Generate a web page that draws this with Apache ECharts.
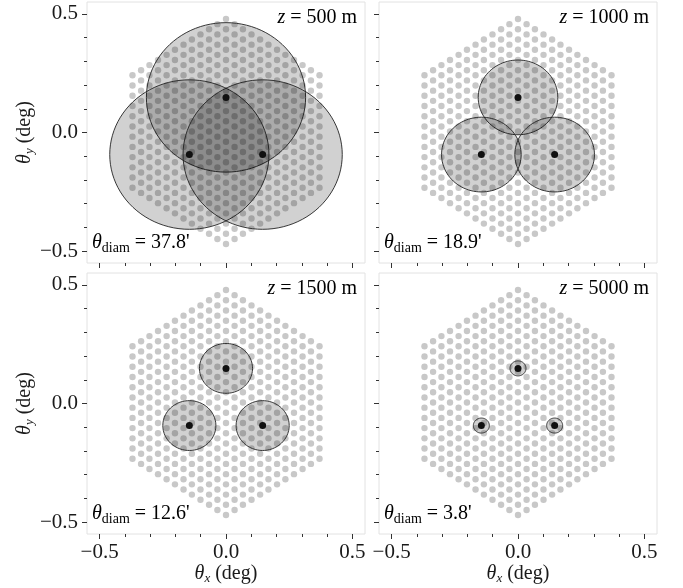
<!DOCTYPE html>
<html><head><meta charset="utf-8">
<script src="https://cdn.jsdelivr.net/npm/echarts@6/dist/echarts.min.js"></script>
<style>html,body{margin:0;padding:0;background:#fff}#c{width:683px;height:588px}</style>
</head><body><div id="c"></div>
<script>
// ---- data ----
const panelHeights = [500, 1000, 1500, 5000];          // z (m)
const panelDiamArcmin = ['37.8', '18.9', '12.6', '3.8']; // beam diameter (arcmin)
const sourceX = [0.0, -0.145, 0.145];                 // deg
const sourceY = [0.148, -0.093, -0.093];              // deg
// hexagonal grid of gray dots: one entry per column
const dotColumnX = [-0.370, -0.336, -0.303, -0.269, -0.235, -0.202, -0.168, -0.135, -0.101, -0.067, -0.034, 0.0,
                    0.034, 0.067, 0.101, 0.135, 0.168, 0.202, 0.235, 0.269, 0.303, 0.336, 0.370];
const dotColumnCount = [12, 13, 14, 15, 16, 17, 18, 19, 20, 21, 22, 23, 22, 21, 20, 19, 18, 17, 16, 15, 14, 13, 12];
const dotRowStep = 0.0431;   // deg between dots in a column
const dotCenterY = 0.004;
const majorTicks = [-0.5, 0.0, 0.5];
const minorTicks = [-0.4, -0.3, -0.2, -0.1, 0.1, 0.2, 0.3, 0.4];

// ---- build ----
const dots = [];
dotColumnX.forEach((x, j) => {
  const n = dotColumnCount[j];
  for (let k = 0; k < n; k++) dots.push([x, dotCenterY + (k - (n - 1) / 2) * dotRowStep]);
});
const sources = sourceX.map((x, i) => [x, sourceY[i]]);

const FONT = '"Liberation Serif", "Times New Roman", serif';
const TXT = '#1a1a1a';
const fmt = v => (v < 0 ? '\u2212' : '') + Math.abs(v).toFixed(1);
const richBase = {
  th: {fontFamily: FONT, fontSize: 20, fontStyle: 'italic', color: TXT, lineHeight: 22, verticalAlign: 'top'},
  subi: {fontFamily: FONT, fontSize: 13, fontStyle: 'italic', color: TXT, lineHeight: 14, padding: [8, 0, 0, 0], verticalAlign: 'top'},
  sub: {fontFamily: FONT, fontSize: 14, color: TXT, lineHeight: 14, padding: [8, 0, 0, 0], verticalAlign: 'top'},
  t: {fontFamily: FONT, fontSize: 20, color: TXT, lineHeight: 22, verticalAlign: 'top'}
};

const L = [87, 379], T = [2, 273], W = 278, H = 261;
const grids = [], xAxes = [], yAxes = [], series = [], graphics = [];
for (let p = 0; p < 4; p++) {
  const col = p % 2, row = Math.floor(p / 2);
  grids.push({left: L[col], top: T[row], width: W, height: H, show: true,
    borderColor: '#e2e2e2', borderWidth: 1, backgroundColor: '#fff', containLabel: false});
  const showX = row === 1, showY = col === 0;
  const common = {type: 'value', gridIndex: p, min: -0.55, max: 0.55,
    axisLine: {show: false, onZero: false}, splitLine: {show: false}};
  xAxes.push(Object.assign({}, common, {position: 'bottom',
    axisTick: {show: true, customValues: majorTicks, length: 5, lineStyle: {color: '#333', width: 1}},
    axisLabel: {show: showX, customValues: majorTicks, formatter: fmt, fontFamily: FONT, fontSize: 21, color: TXT, margin: 8},
    name: showX ? '{th|θ}{subi|x}{t| (deg)}' : '', nameLocation: 'middle', nameGap: 30,
    nameTextStyle: {rich: richBase}}));
  xAxes.push(Object.assign({}, common, {position: 'bottom',
    axisTick: {show: true, customValues: minorTicks, length: 3, lineStyle: {color: '#333', width: 1}},
    axisLabel: {show: false}}));
  yAxes.push(Object.assign({}, common, {position: 'left',
    axisTick: {show: true, customValues: majorTicks, length: 5, lineStyle: {color: '#333', width: 1}},
    axisLabel: {show: showY, customValues: majorTicks, formatter: fmt, fontFamily: FONT, fontSize: 21, color: TXT, margin: 9},
    name: showY ? '{th|θ}{subi|y}{t| (deg)}' : '', nameLocation: 'middle', nameGap: 47,
    nameTextStyle: {rich: richBase}}));
  yAxes.push(Object.assign({}, common, {position: 'left',
    axisTick: {show: true, customValues: minorTicks, length: 3, lineStyle: {color: '#333', width: 1}},
    axisLabel: {show: false}}));

  const r = parseFloat(panelDiamArcmin[p]) / 60 / 2;
  series.push({type: 'scatter', xAxisIndex: 2 * p, yAxisIndex: 2 * p, data: dots, symbolSize: 6.4,
    itemStyle: {color: '#c8c8c8', opacity: 1}, silent: true, z: 1});
  series.push({type: 'custom', xAxisIndex: 2 * p, yAxisIndex: 2 * p, z: 2, silent: true,
    data: sources.map(s => [s[0], s[1], r]),
    renderItem: (params, api) => {
      const cx = api.value(0), cy = api.value(1), rr = api.value(2);
      const pts = [];
      for (let a = 0; a < 96; a++) {
        const t = a / 96 * Math.PI * 2;
        pts.push(api.coord([cx + rr * Math.cos(t), cy + rr * Math.sin(t)]));
      }
      return {type: 'polygon', shape: {points: pts},
        style: {fill: 'rgba(0,0,0,0.18)', stroke: '#222', lineWidth: 0.9}};
    }});
  series.push({type: 'scatter', xAxisIndex: 2 * p, yAxisIndex: 2 * p, data: sources, symbolSize: 7,
    itemStyle: {color: '#111', opacity: 1}, silent: true, z: 3});

  graphics.push({type: 'text', right: 683 - (L[col] + W) + 8, top: T[row] + 6, z: 10,
    style: {text: '{th|z}{t| = ' + panelHeights[p] + ' m}', rich: richBase}});
  graphics.push({type: 'text', left: L[col] + 5, top: T[row] + H - 30, z: 10,
    style: {text: '{th|θ}{sub|diam}{t| = ' + panelDiamArcmin[p] + '\'}', rich: richBase}});
}

const chart = echarts.init(document.getElementById('c'), null, {renderer: 'canvas'});
chart.setOption({animation: false, backgroundColor: '#fff', grid: grids, xAxis: xAxes, yAxis: yAxes,
  series: series, graphic: graphics});
</script></body></html>
